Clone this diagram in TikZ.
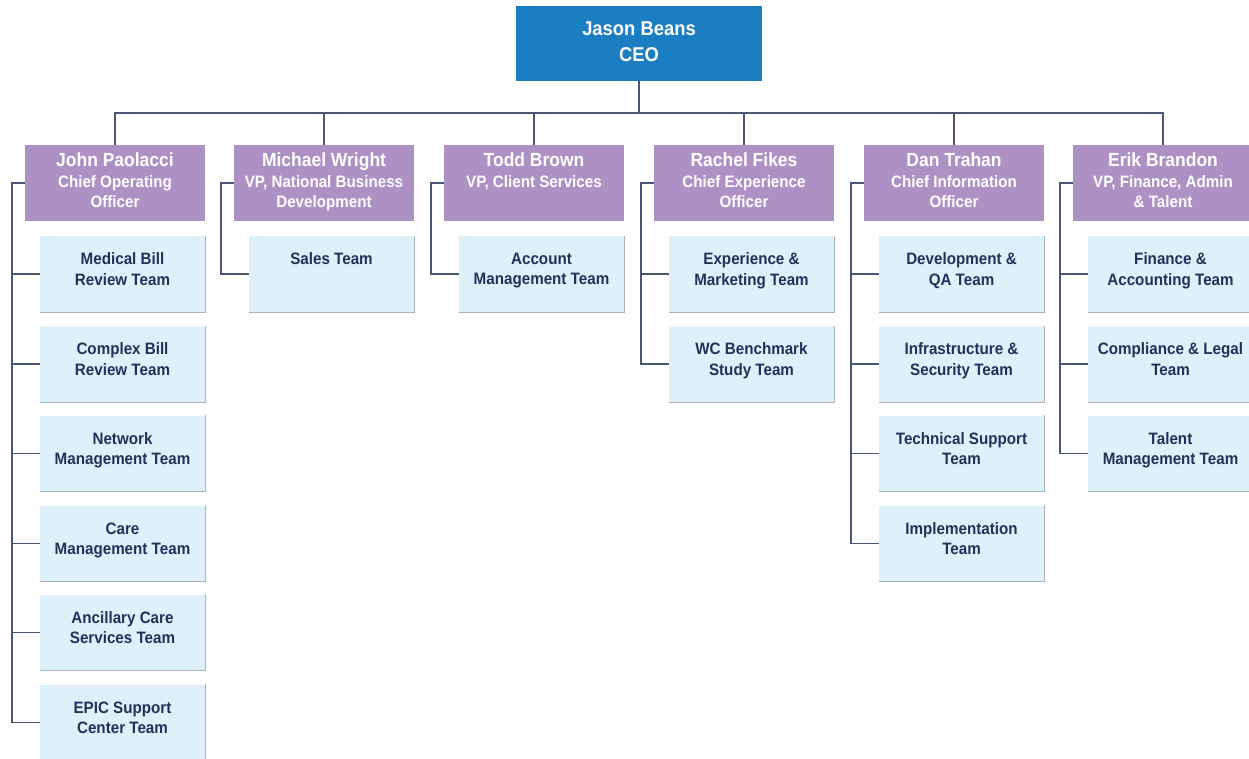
\documentclass[tikz,border=0pt]{standalone}
\usepackage{fontspec}
\setmainfont{Liberation Sans}[FakeStretch=0.92]
\usetikzlibrary{calc}
\definecolor{ceoblue}{HTML}{1B7DC2}
\definecolor{mgrpurple}{HTML}{AD91C5}
\definecolor{teamfill}{HTML}{DEF0FA}
\definecolor{teamshadow}{HTML}{A9B3BC}
\definecolor{navy}{HTML}{23305A}
\definecolor{linecol}{HTML}{4A5675}
\begin{document}
\begin{tikzpicture}[x=1pt,y=-1pt,
  ceobox/.style={fill=ceoblue, minimum width=246pt, minimum height=75pt, inner sep=0pt},
  mgrbox/.style={fill=mgrpurple, minimum width=180pt, minimum height=76pt, inner sep=0pt},
  teambox/.style={fill=teamfill, minimum width=165pt, minimum height=76pt, inner sep=0pt},
  ceotext/.style={anchor=north, align=center, text=white, inner sep=0pt, font=\bfseries\fontsize{20}{26}\selectfont},
  mgrtext/.style={anchor=north, align=center, text=white, inner sep=0pt, font=\bfseries\fontsize{16.5}{20.5}\selectfont},
  teamtext/.style={anchor=north, align=center, text=navy, inner sep=0pt, font=\bfseries\fontsize{16.5}{20.5}\selectfont},
  conn/.style={draw=linecol, line width=1.5pt},
  shade/.style={draw=teamshadow, line width=1.2pt}
]
\path[use as bounding box, fill=white] (0,0) rectangle (1249,759);
\newcommand{\nm}[1]{{\fontsize{19}{20.5}\selectfont #1}}
% CEO
\node[ceobox] (ceo) at (639,43.5) {};
\node[ceotext] (ceot) at ([yshift=-15.5pt]ceo.north) {Jason Beans\\CEO};
\coordinate (bus) at (639,113);
% managers
\node[mgrbox] (m1) at (115,183) {};
\node[mgrbox] (m2) at (324,183) {};
\node[mgrbox] (m3) at (534,183) {};
\node[mgrbox] (m4) at (744,183) {};
\node[mgrbox] (m5) at (954,183) {};
\node[mgrbox] (m6) at (1163,183) {};
\node[mgrtext] (m1t) at ([yshift=-8pt]m1.north) {\nm{John Paolacci}\\Chief Operating\\Officer};
\node[mgrtext] (m2t) at ([yshift=-8pt]m2.north) {\nm{Michael Wright}\\VP, National Business\\Development};
\node[mgrtext] (m3t) at ([yshift=-8pt]m3.north) {\nm{Todd Brown}\\VP, Client Services};
\node[mgrtext] (m4t) at ([yshift=-8pt]m4.north) {\nm{Rachel Fikes}\\Chief Experience\\Officer};
\node[mgrtext] (m5t) at ([yshift=-8pt]m5.north) {\nm{Dan Trahan}\\Chief Information\\Officer};
\node[mgrtext] (m6t) at ([yshift=-8pt]m6.north) {\nm{Erik Brandon}\\VP, Finance, Admin\\\& Talent};
% CEO connectors
\draw[conn] (ceo.south) -- (bus);
\foreach \m in {m1,m2,m3,m4,m5,m6} { \draw[conn] (bus) -| (\m.north); }
% teams
\newcommand{\team}[4]{%
  \node[teambox] (#1) at (#2,#3) {};
  \draw[shade] (#1.north east) -- (#1.south east) -- (#1.south west);
  \node[teamtext] (#1t) at ([yshift=-17pt]#1.north) {#4};
}
\team{t11}{122.5}{274}{Medical Bill\\Review Team}
\team{t12}{122.5}{364}{Complex Bill\\Review Team}
\team{t13}{122.5}{453.5}{Network\\Management Team}
\team{t14}{122.5}{543.5}{Care\\Management Team}
\team{t15}{122.5}{632.5}{Ancillary Care\\Services Team}
\team{t16}{122.5}{722.5}{EPIC Support\\Center Team}
\team{t21}{331.5}{274}{Sales Team}
\team{t31}{541.5}{274}{Account\\Management Team}
\team{t41}{751.5}{274}{Experience \&\\Marketing Team}
\team{t42}{751.5}{364}{WC Benchmark\\Study Team}
\team{t51}{961.5}{274}{Development \&\\QA Team}
\team{t52}{961.5}{364}{Infrastructure \&\\Security Team}
\team{t53}{961.5}{453.5}{Technical Support\\Team}
\team{t54}{961.5}{543.5}{Implementation\\Team}
\team{t61}{1170.5}{274}{Finance \&\\Accounting Team}
\team{t62}{1170.5}{364}{Compliance \& Legal\\Team}
\team{t63}{1170.5}{453.5}{Talent\\Management Team}
% manager-to-team connectors
\foreach \t in {t11,t12,t13,t14,t15,t16} { \draw[conn] (m1.west) -- ++(-13,0) |- (\t.west); }
\foreach \t in {t21} { \draw[conn] (m2.west) -- ++(-13,0) |- (\t.west); }
\foreach \t in {t31} { \draw[conn] (m3.west) -- ++(-13,0) |- (\t.west); }
\foreach \t in {t41,t42} { \draw[conn] (m4.west) -- ++(-13,0) |- (\t.west); }
\foreach \t in {t51,t52,t53,t54} { \draw[conn] (m5.west) -- ++(-13,0) |- (\t.west); }
\foreach \t in {t61,t62,t63} { \draw[conn] (m6.west) -- ++(-13,0) |- (\t.west); }
\end{tikzpicture}
\end{document}
